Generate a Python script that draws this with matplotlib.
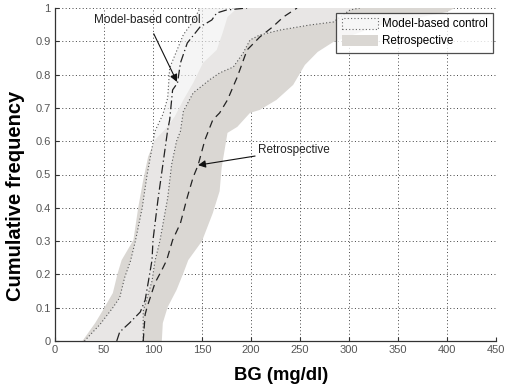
import numpy as np
import matplotlib
matplotlib.use("Agg")
import matplotlib.pyplot as plt
from matplotlib.patches import Patch

plt.rcParams['font.family'] = ['Liberation Sans', 'DejaVu Sans']

# Model-based control band (5th / 95th percentile edges) and median
model_left_bg = [30, 46, 59, 66, 71, 77, 82, 89, 94, 99, 102, 110, 115, 117, 124, 131, 141, 148]
model_left_f = [0, 0.05, 0.10, 0.13, 0.19, 0.24, 0.30, 0.40, 0.50, 0.58, 0.63, 0.68, 0.73, 0.82, 0.87, 0.92, 0.96, 1.0]
model_right_bg = [90, 90, 95, 99, 102, 107, 115, 119, 124, 128, 131, 141, 158, 168, 182, 192, 199, 209, 230, 260, 284, 301, 311]
model_right_f = [0, 0.09, 0.14, 0.18, 0.24, 0.30, 0.43, 0.53, 0.60, 0.63, 0.69, 0.745, 0.785, 0.805, 0.823, 0.865, 0.904, 0.919, 0.934, 0.949, 0.958, 0.994, 1.0]
model_med_bg = [63, 66, 76, 87, 92, 95, 99, 100, 105, 115, 117, 120, 125, 128, 135, 148, 160, 165, 175, 196]
model_med_f = [0, 0.027, 0.054, 0.087, 0.123, 0.174, 0.243, 0.303, 0.423, 0.634, 0.664, 0.754, 0.775, 0.835, 0.895, 0.943, 0.964, 0.985, 0.994, 1.0]

# Retrospective band edges and median
retro_left_bg = [28, 41, 49, 59, 64, 68, 80, 85, 90, 95, 102, 112, 122, 131, 141, 151, 165, 171, 176, 186]
retro_left_f = [0, 0.054, 0.093, 0.144, 0.204, 0.243, 0.303, 0.402, 0.483, 0.553, 0.604, 0.634, 0.673, 0.724, 0.775, 0.835, 0.874, 0.925, 0.973, 1.0]
retro_right_bg = [109, 110, 115, 124, 131, 136, 150, 161, 168, 170, 176, 186, 199, 209, 226, 243, 255, 268, 284, 332, 400, 408]
retro_right_f = [0, 0.054, 0.102, 0.153, 0.204, 0.243, 0.30, 0.384, 0.45, 0.52, 0.625, 0.643, 0.685, 0.694, 0.724, 0.769, 0.829, 0.868, 0.898, 0.949, 0.988, 1.0]
retro_med_bg = [90, 92, 94, 102, 109, 114, 120, 128, 135, 141, 146, 153, 161, 168, 176, 186, 196, 209, 222, 233, 247]
retro_med_f = [0, 0.08, 0.102, 0.174, 0.213, 0.243, 0.303, 0.354, 0.432, 0.492, 0.528, 0.604, 0.664, 0.685, 0.724, 0.793, 0.874, 0.913, 0.943, 0.973, 1.0]

x_ticks = [0, 50, 100, 150, 200, 250, 300, 350, 400, 450]
y_ticks = [0, 0.1, 0.2, 0.3, 0.4, 0.5, 0.6, 0.7, 0.8, 0.9, 1]
y_tick_labels = ['0', '0.1', '0.2', '0.3', '0.4', '0.5', '0.6', '0.7', '0.8', '0.9', '1']

retro_color = '#dad7d3'
model_color = '#f0f0f0'

fig = plt.figure(figsize=(5.08, 3.84), dpi=100)
ax = fig.add_axes([55/508, 1-341/384, (496-55)/508, (341-8)/384])

# Retrospective band
ax.fill(np.concatenate([retro_left_bg, retro_right_bg[::-1]]),
        np.concatenate([retro_left_f, retro_right_f[::-1]]),
        color=retro_color, lw=0, zorder=2)
# Model-based band (semi-transparent overlay)
ax.fill(np.concatenate([model_left_bg, model_right_bg[::-1]]),
        np.concatenate([model_left_f, model_right_f[::-1]]),
        color=model_color, alpha=0.64, lw=0, zorder=3)
ax.plot(model_left_bg, model_left_f, ls=(0, (1, 2)), color='#555555', lw=0.8, zorder=4)
ax.plot(model_right_bg, model_right_f, ls=(0, (1, 2)), color='#555555', lw=0.8, zorder=4)

# Medians
ax.plot(model_med_bg, model_med_f, ls=(0, (7, 2.5, 1, 2.5)), color='#222222', lw=0.9, zorder=5)
ax.plot(retro_med_bg, retro_med_f, ls=(0, (6, 4)), color='#222222', lw=0.9, zorder=5)

# Annotations
ax.annotate('Model-based control', xy=(124.5, 0.778), xytext=(94, 0.964),
            ha='center', va='center', fontsize=8.5, color='#222222',
            arrowprops=dict(arrowstyle='-|>', color='#111111', lw=0.8,
                            mutation_scale=11, shrinkA=4, shrinkB=0), zorder=6)
ax.annotate('Retrospective', xy=(146, 0.528), xytext=(207, 0.574),
            ha='left', va='center', fontsize=8.5, color='#222222',
            arrowprops=dict(arrowstyle='-|>', color='#111111', lw=0.8,
                            mutation_scale=11, shrinkA=0, shrinkB=0), zorder=6)

ax.set_xlim(0, 450)
ax.set_ylim(0, 1)
ax.set_xticks(x_ticks)
ax.set_yticks(y_ticks)
ax.set_yticklabels(y_tick_labels)
ax.tick_params(direction='in', length=3, labelsize=8, labelcolor='#555555', color='#333333', pad=3)
ax.grid(True, ls=(0, (1, 2.5)), color='#444444', lw=0.7)
ax.set_axisbelow(True)
for s in ['top', 'right']:
    ax.spines[s].set_visible(False)
for s in ['left', 'bottom']:
    ax.spines[s].set_color('#333333')
    ax.spines[s].set_linewidth(0.9)

ax.set_xlabel('BG (mg/dl)', fontsize=13.3, fontweight='bold')
ax.set_ylabel('Cumulative frequency', fontsize=14.5, fontweight='bold')
ax.xaxis.set_label_coords(0.512, -0.078)
ax.yaxis.set_label_coords(-0.069, 0.435)

handles = [Patch(facecolor='#f6f6f6', edgecolor='#666666', linestyle=(0, (1, 2)), lw=0.8),
           Patch(facecolor=retro_color, edgecolor='none')]
leg = ax.legend(handles, ['Model-based control', 'Retrospective'], loc='upper right',
                bbox_to_anchor=(0.993, 0.985), fontsize=8.4, frameon=True, fancybox=False,
                edgecolor='#222222', handlelength=3.1, handleheight=1.0,
                borderpad=0.45, labelspacing=0.4, handletextpad=0.35, borderaxespad=0)
leg.get_frame().set_linewidth(0.9)
leg.set_zorder(10)

fig.savefig('out.png', dpi=100)
